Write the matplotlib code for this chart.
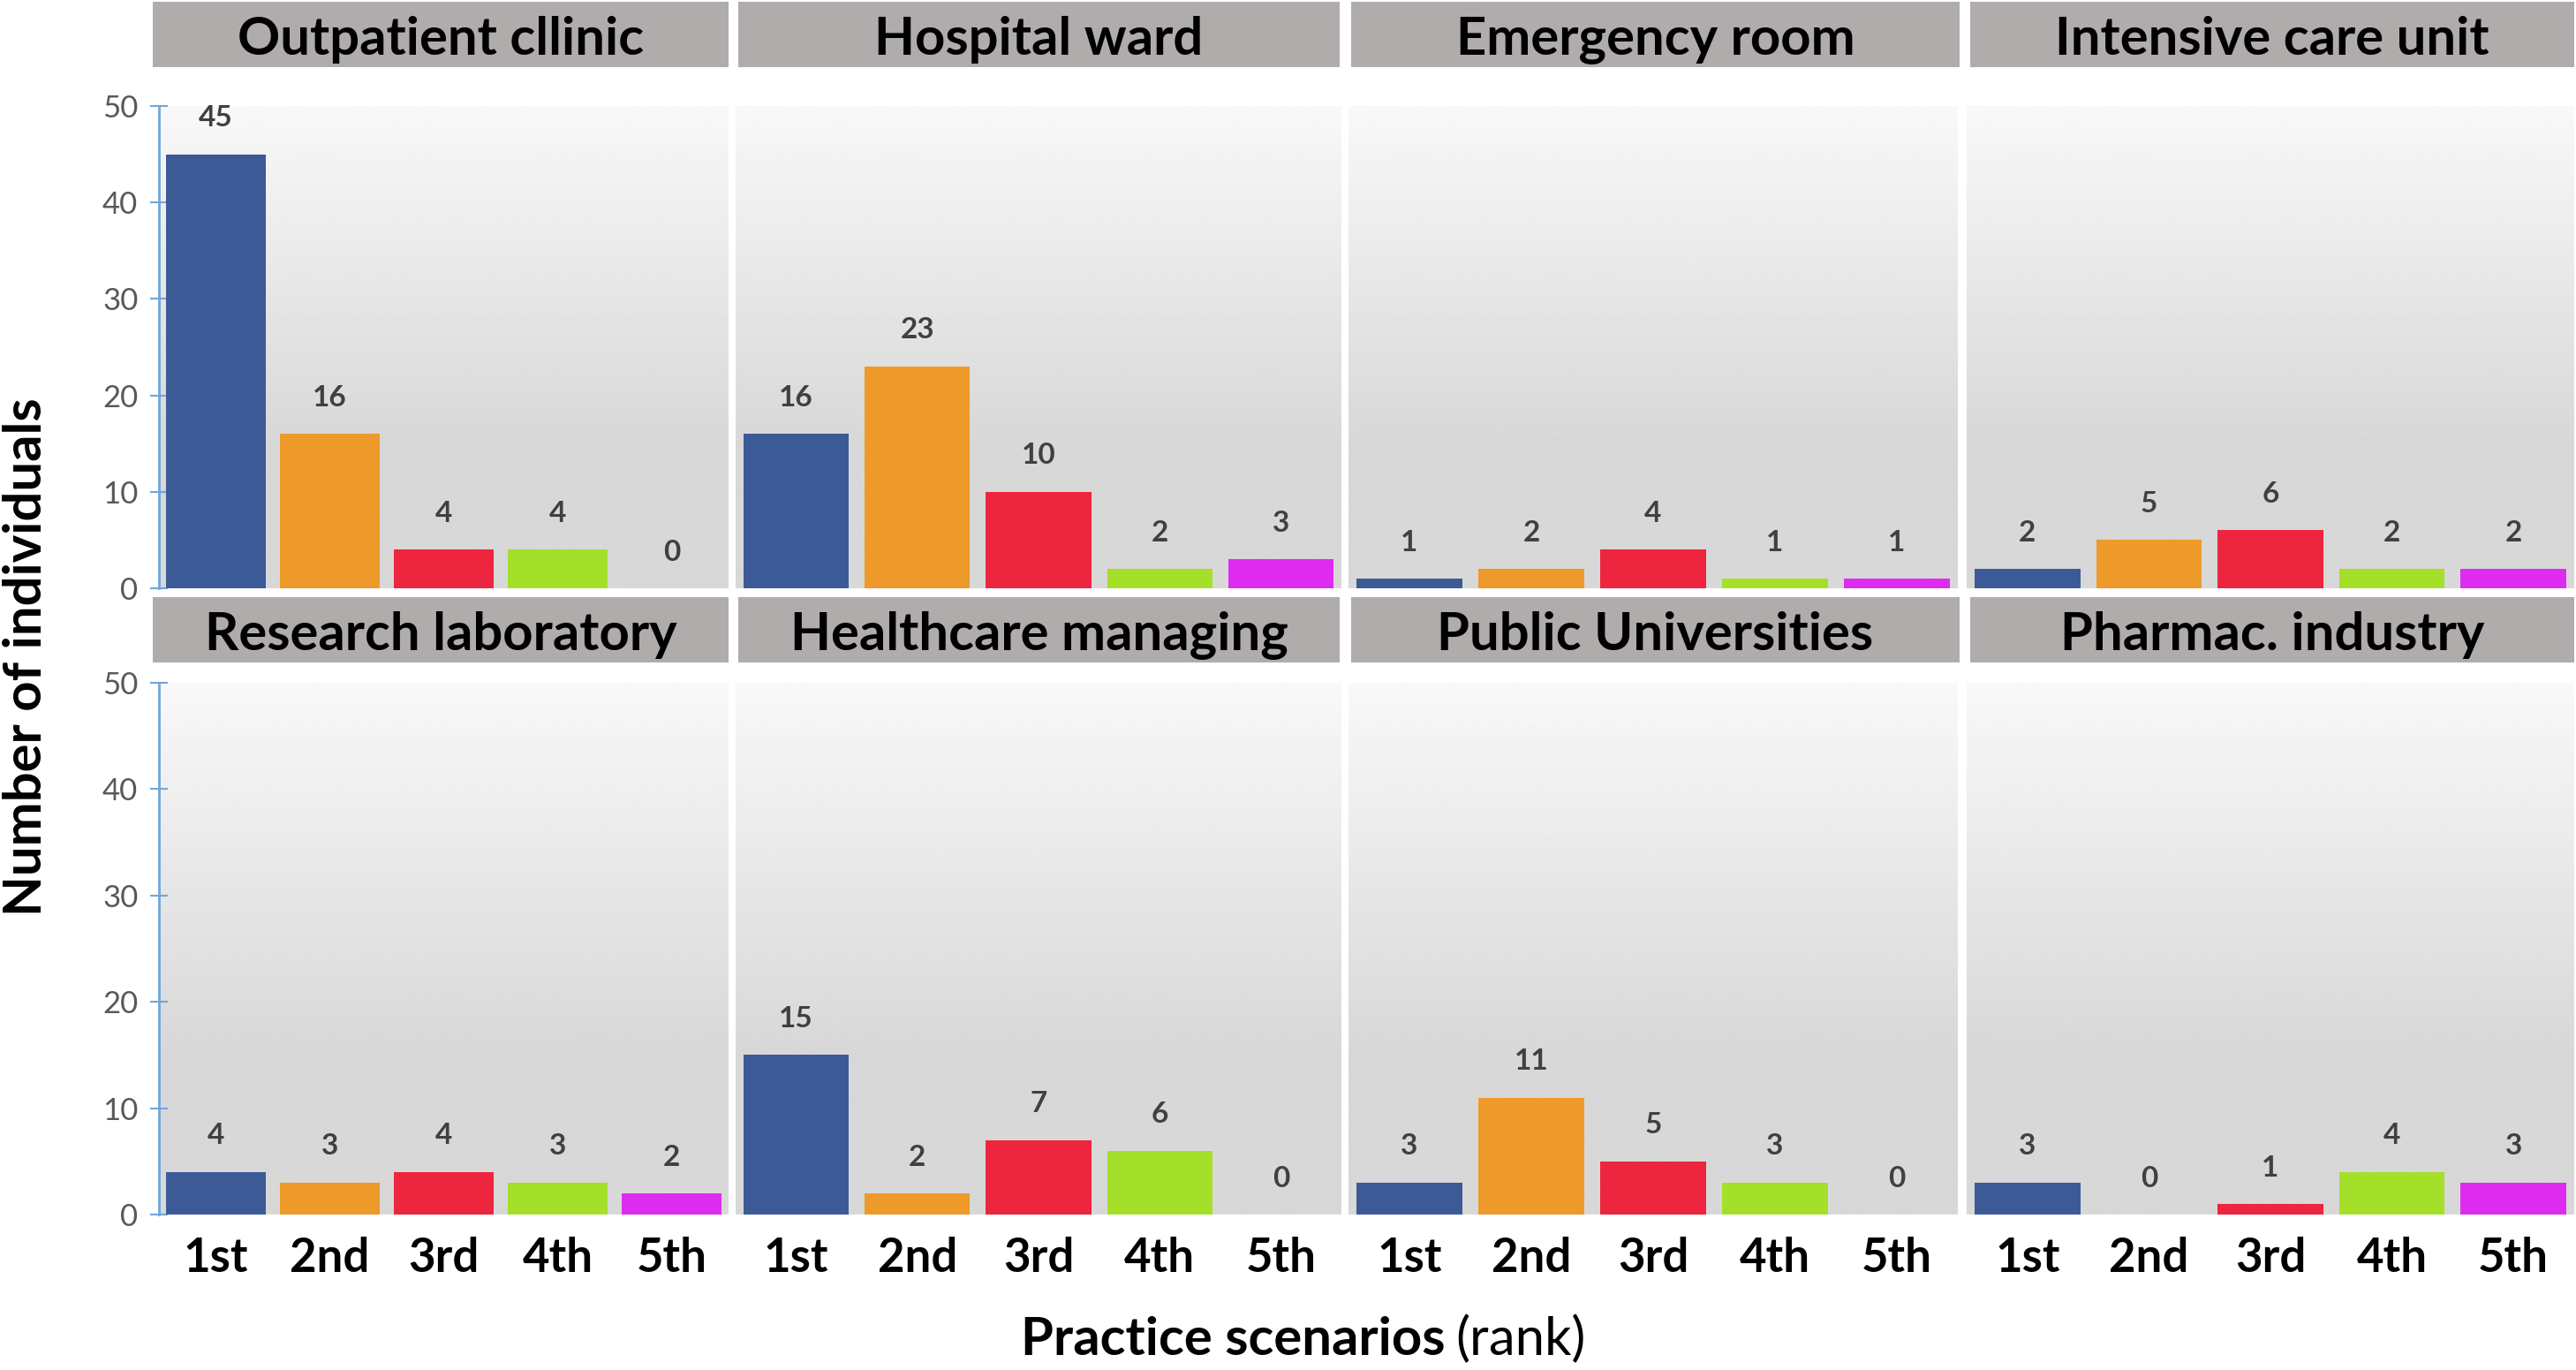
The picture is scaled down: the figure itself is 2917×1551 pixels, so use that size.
import numpy as np
import matplotlib
matplotlib.use("Agg")
import matplotlib.pyplot as plt
from matplotlib.patches import Rectangle

plt.rcParams['font.family'] = ['Lato', 'DejaVu Sans']

# data
ranks = ["1st", "2nd", "3rd", "4th", "5th"]
scenarios = ["Outpatient cllinic", "Hospital ward", "Emergency room", "Intensive care unit",
             "Research laboratory", "Healthcare managing", "Public Universities", "Pharmac. industry"]
outpatient = [45, 16, 4, 4, 0]
hospital = [16, 23, 10, 2, 3]
emergency = [1, 2, 4, 1, 1]
icu = [2, 5, 6, 2, 2]
research = [4, 3, 4, 3, 2]
managing = [15, 2, 7, 6, 0]
universities = [3, 11, 5, 3, 0]
pharma = [3, 0, 1, 4, 3]
values = [outpatient, hospital, emergency, icu, research, managing, universities, pharma]

colors = ["#3c5b96", "#ed9a2a", "#ee253e", "#a4e02a", "#dd2cf0"]
axis_blue = "#6fa6dc"
title_gray = "#b0acac"

W, H = 2917, 1551
fig = plt.figure(figsize=(W / 100, H / 100), dpi=100)

# layout in pixels (left, right) per column, (top, bottom) per row
cols = [(180, 825), (833, 1519), (1527, 2217), (2227, 2915)]
title_cols = [(173, 825), (836, 1517), (1530, 2219), (2231, 2915)]
rows = [(120, 666), (773, 1375)]
title_rows = [(2, 76), (676, 750)]

# gradient backdrop, light top to grey bottom
t = np.linspace(0, 1, 300)
grad = 0.975 - 0.13 * np.clip(t / 0.7, 0, 1)
grad = grad[:, None]

for i, vals in enumerate(values):
    r, c = divmod(i, 4)
    x0, x1 = cols[c]
    y0, y1 = rows[r]
    ax = fig.add_axes([x0 / W, 1 - y1 / H, (x1 - x0) / W, (y1 - y0) / H])
    ax.imshow(grad, extent=[-0.5, 4.5, 0, 50], aspect="auto", cmap="gray",
              vmin=0, vmax=1, zorder=0, interpolation="bilinear")
    idx = np.arange(len(ranks))
    ax.bar(idx, vals, width=0.87, color=colors, zorder=2)
    for xi, v in zip(idx, vals):
        ax.annotate(str(v), (xi, v), xytext=(0, 19), textcoords="offset points",
                    ha="center", va="bottom", fontsize=24, fontweight="bold",
                    color="#404040")
    ax.set_xlim(-0.5, 4.5)
    ax.set_ylim(0, 50)
    for s in ["top", "right", "bottom"]:
        ax.spines[s].set_visible(False)
    if c == 0:
        ax.spines["left"].set_color(axis_blue)
        ax.spines["left"].set_linewidth(2)
        ax.set_yticks(np.arange(0, 51, 10))
        ax.tick_params(axis="y", direction="inout", length=14, width=1.5,
                       color=axis_blue, labelsize=25, labelcolor="#595959", pad=10)
    else:
        ax.spines["left"].set_visible(False)
        ax.set_yticks([])
    if r == 1:
        ax.set_xticks(idx, ranks)
        ax.tick_params(axis="x", length=0, labelsize=38, pad=18)
        for lab in ax.get_xticklabels():
            lab.set_fontweight("bold")
    else:
        ax.set_xticks([])

    # header box
    tx0, tx1 = title_cols[c]
    ty0, ty1 = title_rows[r]
    fig.add_artist(Rectangle((tx0 / W, 1 - ty1 / H), (tx1 - tx0) / W, (ty1 - ty0) / H,
                             transform=fig.transFigure, facecolor=title_gray,
                             edgecolor="none"))
    fig.text((tx0 + tx1) / 2 / W, 1 - (ty0 + 60) / H, scenarios[i], ha="center",
             va="baseline", fontsize=43, fontweight="bold", color="black")

fig.text(30 / W, 1 - 744 / H, "Number of individuals", rotation=90,
         ha="center", va="center", fontsize=43, fontweight="bold")
fig.text(1636 / W, 1 - 1534 / H, "Practice scenarios", ha="right", va="baseline",
         fontsize=43, fontweight="bold")
fig.text(1648 / W, 1 - 1534 / H, "(rank)", ha="left", va="baseline", fontsize=43)

fig.savefig("out.png", dpi=100, facecolor="white")
